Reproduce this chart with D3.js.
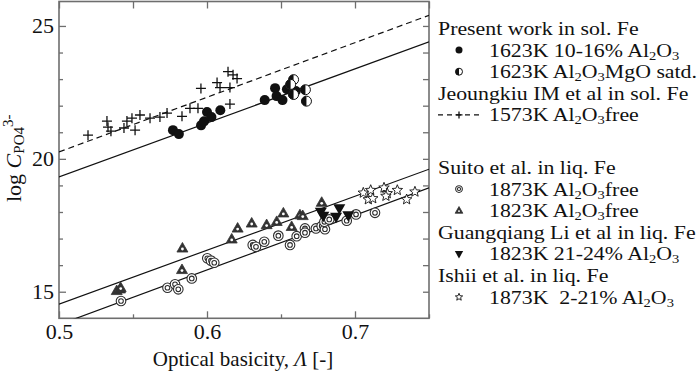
<!DOCTYPE html>
<html>
<head>
<meta charset="utf-8">
<script src="https://cdn.jsdelivr.net/npm/d3@7"></script>
<style>
  body { margin: 0; background: #fff; }
  svg, svg text { font-family: "Liberation Serif", Tinos, "DejaVu Serif", serif; }
</style>
</head>
<body>
<div id="chart"></div>
<script>
// ---- data (optical basicity, log C_PO4^3-) ----
const presentFe = [
  [0.577, 21.08], [0.581, 20.93], [0.596, 21.26], [0.598, 21.41], [0.600, 21.76],
  [0.603, 21.57], [0.609, 21.83], [0.639, 22.21], [0.646, 22.66], [0.647, 22.36],
  [0.651, 22.21], [0.654, 22.62], [0.656, 22.72], [0.658, 22.44], [0.660, 22.55]
];
const presentMgO = [
  [0.6585, 22.98], [0.6565, 22.80], [0.6585, 22.42], [0.6665, 22.60], [0.6672, 22.17]
];
const imSolFe = [
  [0.5196, 20.89], [0.5324, 21.42], [0.5331, 21.19], [0.5351, 21.04], [0.5439, 21.16],
  [0.5459, 21.42], [0.5493, 21.53], [0.5514, 21.08], [0.5547, 21.65], [0.5615, 21.53],
  [0.5682, 21.57], [0.5730, 21.72], [0.5831, 21.60], [0.5885, 21.90], [0.5939, 21.90],
  [0.5959, 22.65], [0.6068, 22.87], [0.6088, 22.68], [0.6142, 23.28], [0.6155, 22.68],
  [0.6176, 23.16], [0.6203, 23.02], [0.6155, 22.06]
];
const suito1873 = [
  [0.5419, 14.65], [0.5733, 15.15], [0.5784, 15.28], [0.5806, 15.09], [0.5897, 15.50],
  [0.6002, 16.26], [0.6027, 16.17], [0.6049, 16.09], [0.6309, 16.76], [0.6331, 16.69],
  [0.6387, 16.88], [0.6482, 17.11], [0.6561, 16.76], [0.6606, 17.09], [0.6662, 17.38],
  [0.6662, 17.22], [0.6736, 17.38], [0.6775, 17.47], [0.6797, 17.35], [0.6793, 17.63],
  [0.6826, 17.72], [0.6944, 17.67], [0.7007, 17.91], [0.7135, 17.97]
];
const suito1823 = [
  [0.5390, 15.03], [0.5412, 15.09], [0.5417, 15.14], [0.5834, 16.63], [0.5831, 15.82],
  [0.6167, 16.97], [0.6207, 17.38], [0.6302, 17.57], [0.6403, 17.51], [0.6471, 17.63],
  [0.6516, 17.95], [0.6572, 17.44], [0.6628, 17.88], [0.6647, 17.85], [0.6775, 18.35]
];
const liGuang = [
  [0.6769, 18.01], [0.6786, 17.86], [0.6894, 18.14], [0.6872, 17.82], [0.6955, 17.88]
];
const ishii = [
  [0.7056, 18.72], [0.7106, 18.82], [0.7090, 18.47], [0.7120, 18.51], [0.7196, 18.91],
  [0.7218, 18.70], [0.7209, 18.60], [0.7286, 18.82], [0.7349, 18.47], [0.7405, 18.76]
];
// regression lines, end points
const fitPresent = [[0.5, 19.32], [0.75, 24.40]];
const fitIm = [[0.5, 20.26], [0.75, 25.40]];
const fit1823 = [[0.5, 14.53], [0.75, 19.61]];
const fit1873 = [[0.5, 13.76], [0.75, 18.91]];

const xMajor = [0.5, 0.6, 0.7];
const xMinor = [0.55, 0.65, 0.75];
const yMajor = [15, 20, 25];
const yMinor = [16, 17, 18, 19, 21, 22, 23, 24];

const W = 700, H = 371;
const axisColor = "#6e6e6e";
const FONT = "'Liberation Serif', Tinos, 'DejaVu Serif', serif";

const svg = d3.select("#chart").append("svg")
  .attr("width", W).attr("height", H)
  .style("font-family", FONT);

const x = d3.scaleLinear().domain([0.5, 0.75]).range([59, 429]);
const y = d3.scaleLinear().domain([14, 25.92]).range([318.3, 1.5]);

svg.append("clipPath").attr("id", "plotclip")
  .append("rect").attr("x", 59).attr("y", 1.5).attr("width", 370).attr("height", 316.8);

// axes (ticks point inward, mirrored on all sides)
function styleAxis(g) {
  g.attr("font-family", null).attr("font-size", null);
  g.select(".domain").remove();
  g.selectAll(".tick line").attr("stroke", axisColor).attr("stroke-width", 1.3);
  g.selectAll("text").style("font-family", FONT)
    .attr("font-size", 22).attr("fill", "#111");
}
svg.append("g").attr("transform", `translate(0,${y.range()[0]})`)
  .call(d3.axisBottom(x).tickValues(xMajor).tickSize(-7).tickPadding(5).tickFormat(d3.format(".1f")))
  .call(styleAxis);
svg.append("g").attr("transform", `translate(0,${y.range()[0]})`)
  .call(d3.axisBottom(x).tickValues(xMinor).tickSize(-4).tickFormat(""))
  .call(styleAxis);
svg.append("g").attr("transform", `translate(0,${y.range()[1]})`)
  .call(d3.axisTop(x).tickValues(xMajor.concat(xMinor)).tickSize(-7).tickFormat(""))
  .call(styleAxis);
svg.append("g").attr("transform", `translate(${x.range()[0]},0)`)
  .call(d3.axisLeft(y).tickValues(yMajor).tickSize(-7).tickPadding(5).tickFormat(d3.format("d")))
  .call(styleAxis);
svg.append("g").attr("transform", `translate(${x.range()[0]},0)`)
  .call(d3.axisLeft(y).tickValues(yMinor).tickSize(-4).tickFormat(""))
  .call(styleAxis);
svg.append("g").attr("transform", `translate(${x.range()[1]},0)`)
  .call(d3.axisRight(y).tickValues(yMajor.concat(yMinor)).tickSize(-6).tickFormat(""))
  .call(styleAxis);

svg.append("rect")
  .attr("x", 59).attr("y", 1.5).attr("width", 370).attr("height", 316.8)
  .attr("fill", "none").attr("stroke", axisColor).attr("stroke-width", 1.6);

// axis titles
const xt = svg.append("text").attr("x", 243).attr("y", 366)
  .attr("text-anchor", "middle").attr("font-size", 21).attr("fill", "#111");
xt.append("tspan").text("Optical basicity, ");
xt.append("tspan").attr("font-style", "italic").text("\u039B");
xt.append("tspan").text(" [-]");

const yt = svg.append("text").attr("transform", "translate(21,202) rotate(-90)")
  .attr("font-size", 22).attr("fill", "#111");
yt.append("tspan").text("log ");
yt.append("tspan").attr("font-style", "italic").text("C");
yt.append("tspan").attr("font-size", 15).attr("dy", 3).text("PO4");
yt.append("tspan").attr("font-size", 15).attr("dy", -11).text("3-");

// fit lines
const plot = svg.append("g").attr("clip-path", "url(#plotclip)");
const line = d3.line().x(d => x(d[0])).y(d => y(d[1]));
[fitPresent, fit1823, fit1873].forEach(f => {
  plot.append("path").datum(f).attr("d", line)
    .attr("fill", "none").attr("stroke", "#111").attr("stroke-width", 1.2);
});
plot.append("path").datum(fitIm).attr("d", line)
  .attr("fill", "none").attr("stroke", "#111").attr("stroke-width", 1.2)
  .attr("stroke-dasharray", "6,4");

// marker painters
function starPath(R, r) {
  const pts = [];
  for (let i = 0; i < 10; i++) {
    const a = -Math.PI / 2 + i * Math.PI / 5;
    const rr = i % 2 === 0 ? R : r;
    pts.push([rr * Math.cos(a), rr * Math.sin(a)]);
  }
  return "M" + pts.map(p => p.join(",")).join("L") + "Z";
}
function triPath(s, down) {
  const h = s * 0.87, k = down ? -1 : 1;
  return `M0,${-k * h * 0.62}L${s / 2},${k * h * 0.38}L${-s / 2},${k * h * 0.38}Z`;
}
const painters = {
  filled: (g, s) => g.append("circle").attr("r", 5 * s).attr("fill", "#111"),
  half: (g, s) => {
    const r = 5 * s;
    g.append("circle").attr("r", r).attr("fill", "#fff").attr("stroke", "#111").attr("stroke-width", 1);
    g.append("path").attr("d", `M0,${-r}A${r},${r} 0 0 0 0,${r}Z`).attr("fill", "#111");
  },
  plus: (g, s) => g.append("path").attr("d", `M${-5 * s},0H${5 * s}M0,${-5 * s}V${5 * s}`)
    .attr("stroke", "#111").attr("stroke-width", 1.3),
  ring: (g, s) => {
    g.append("circle").attr("r", 4.8 * s).attr("fill", "#fff").attr("stroke", "#2e2e2e").attr("stroke-width", 1.1);
    g.append("circle").attr("r", 2.3 * s).attr("fill", "none").attr("stroke", "#2e2e2e").attr("stroke-width", 1.1);
  },
  up: (g, s) => {
    g.append("path").attr("d", triPath(11 * s, false)).attr("fill", "#333").attr("stroke", "#333").attr("stroke-width", 0.8);
    g.append("circle").attr("cy", 0.6 * s).attr("r", 1.4 * s).attr("fill", "#fff");
  },
  down: (g, s) => g.append("path").attr("d", triPath(12 * s, true)).attr("fill", "#111"),
  star: (g, s) => g.append("path").attr("d", starPath(5.5 * s, 2.4 * s))
    .attr("fill", "#fff").attr("stroke", "#111").attr("stroke-width", 0.9)
};

function drawSeries(data, kind) {
  plot.append("g").selectAll("g").data(data).join("g")
    .attr("transform", d => `translate(${x(d[0])},${y(d[1])})`)
    .each(function () { painters[kind](d3.select(this), 1); });
}
drawSeries(imSolFe, "plus");
drawSeries(presentFe, "filled");
drawSeries(presentMgO, "half");
drawSeries(suito1873, "ring");
drawSeries(suito1823, "up");
drawSeries(liGuang, "down");
drawSeries(ishii, "star");

// legend
const LFS = 19.5, LSTRETCH = 1.12;
function richText(g, str, xp, yp) {
  // "~n~" marks a subscript; slightly stretched so rows stay tight like the original
  const t = g.append("text").attr("transform", `translate(${xp},${yp}) scale(${LSTRETCH},1)`)
    .attr("font-size", LFS).attr("fill", "#111").attr("xml:space", "preserve");
  str.split("~").forEach((part, i) => {
    if (!part) return;
    if (i % 2) t.append("tspan").attr("font-size", 13).attr("dy", 3).text(part);
    else t.append("tspan").attr("dy", i ? -3 : 0).text(part);
  });
}
const legendHeaders = [
  ["Present work in sol. Fe", 35],
  ["Jeoungkiu IM et al in sol. Fe", 99.8],
  ["Suito et al. in liq. Fe", 174],
  ["Guangqiang Li et al in liq. Fe", 238.8],
  ["Ishii et al. in liq. Fe", 282]
];
const legendItems = [
  ["filled", "1623K 10-16% Al~2~O~3~", 56.6],
  ["half", "1623K Al~2~O~3~MgO satd.", 78.2],
  ["plus", "1573K Al~2~O~3~free", 121.4],
  ["ring", "1873K Al~2~O~3~free", 195.6],
  ["up", "1823K Al~2~O~3~free", 217.2],
  ["down", "1823K 21-24% Al~2~O~3~", 260.4],
  ["star", "1873K  2-21% Al~2~O~3~", 303.6]
];
const lg = svg.append("g");
legendHeaders.forEach(h => richText(lg, h[0], 438, h[1]));
legendItems.forEach(it => {
  const my = it[2] - 6.5;
  if (it[0] === "plus") {
    lg.append("line").attr("x1", 438).attr("x2", 482).attr("y1", my).attr("y2", my)
      .attr("stroke", "#111").attr("stroke-width", 1.2).attr("stroke-dasharray", "5,4");
  }
  const m = lg.append("g").attr("transform", `translate(459,${my})`);
  painters[it[0]](m, 0.7);
  richText(lg, it[1], 489, it[2]);
});
</script>
</body>
</html>
